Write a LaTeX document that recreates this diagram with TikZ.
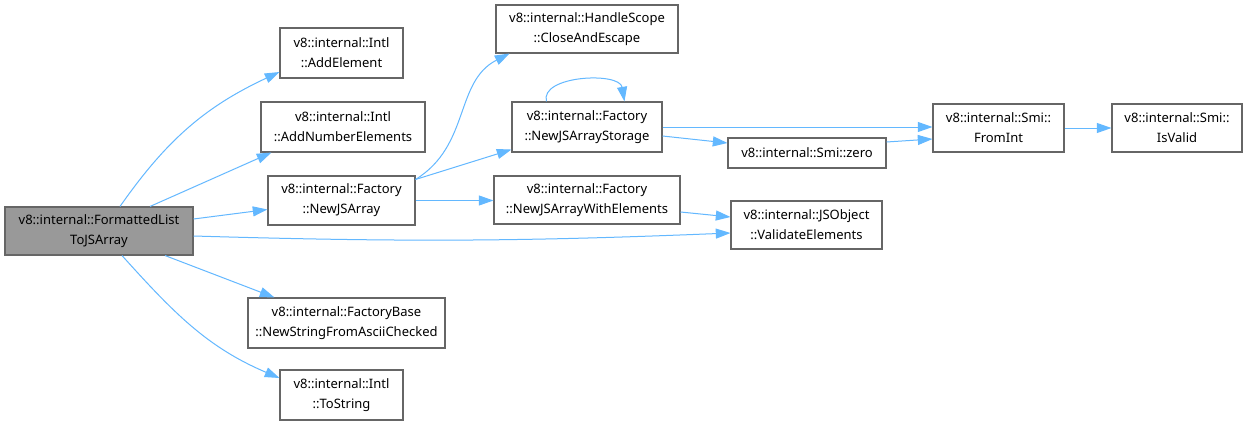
\documentclass[tikz,border=0pt]{standalone}
\usepackage{fontspec}
\setmainfont{Noto Sans}
\usetikzlibrary{arrows.meta,calc}
\definecolor{edgeblue}{HTML}{63B8FF}
\definecolor{boxline}{HTML}{666666}
\definecolor{mainfill}{HTML}{999999}

\begin{document}
\begin{tikzpicture}[x=0.75pt, y=0.75pt, >={Triangle[length=11pt,width=7.5pt]},
  font=\fontsize{9.75}{15}\selectfont,
  blk/.style 2 args={draw=boxline, line width=0.8pt, fill=white, align=center,
    inner sep=0pt, minimum width=#1*0.75pt, minimum height=#2*0.75pt},
  edge/.style={->, draw=edgeblue, line width=0.75pt}]
  \fill[white] (0,0) rectangle (1248,426);
  \useasboundingbox (0,0) rectangle (1248,426);

  % caller
  \node[blk={188}{48}, fill=mainfill] (main) at (99,195) {v8::internal::FormattedList\\ToJSArray};

  % first level
  \node[blk={123}{50}] (addel)  at (341.5,373) {v8::internal::Intl\\::AddElement};
  \node[blk={164}{50}] (addnum) at (343,299) {v8::internal::Intl\\::AddNumberElements};
  \node[blk={147}{49}] (newarr) at (341.5,225.5) {v8::internal::Factory\\::NewJSArray};
  \node[blk={197}{50}] (newstr) at (346.5,103) {v8::internal::FactoryBase\\::NewStringFromAsciiChecked};
  \node[blk={123}{50}] (tostr)  at (341.5,31) {v8::internal::Intl\\::ToString};

  % second level
  \node[blk={182}{48}] (close)  at (587,397) {v8::internal::HandleScope\\::CloseAndEscape};
  \node[blk={150}{50}] (store)  at (587,299) {v8::internal::Factory\\::NewJSArrayStorage};
  \node[blk={186}{48}] (withel) at (587,226) {v8::internal::Factory\\::NewJSArrayWithElements};
  \node[blk={158}{30}] (zero)   at (807,273) {v8::internal::Smi::zero};
  \node[blk={151}{48}] (valid)  at (806.5,201) {v8::internal::JSObject\\::ValidateElements};
  \node[blk={131}{48}] (fromint) at (998.5,298) {v8::internal::Smi::\\FromInt};
  \node[blk={130}{48}] (isvalid) at (1177,298) {v8::internal::Smi::\\IsValid};

  % calls from main
  \draw[edge] ($(main.north)+(21,0)$) to[out=55,in=205] ($(addel.west)+(0,-19)$);
  \draw[edge] ($(main.north)+(51,0)$) -- ($(addnum.south west)+(11,0)$);
  \draw[edge] ($(main.east)+(0,12)$) -- ($(newarr.west)+(0,-9)$);
  \draw[edge] ($(main.east)+(0,-5)$) to[bend right=2] ($(valid.west)+(0,-8)$);
  \draw[edge] ($(main.south)+(66,0)$) -- ($(newstr.north west)+(27,0)$);
  \draw[edge] ($(main.south)+(23,0)$) to[out=-48,in=157] ($(tostr.west)+(0,17)$);

  % calls from NewJSArray
  \draw[edge] ($(newarr.north east)+(0,-4)$) .. controls +(55,34) and +(-55,-28) .. ($(close.south west)+(14,0)$);
  \draw[edge] ($(newarr.north east)+(0,-4)$) -- ($(store.south west)+(0,3)$);
  \draw[edge] (newarr.east) -- (newarr.east -| withel.west);

  % storage, smi
  \draw[edge] ($(store.north west)+(35,0)$) .. controls +(-7,26) and +(-5,30) .. ($(store.north west)+(113,0)$);
  \draw[edge] (store.east) -- ($(fromint.west)+(0,1)$);
  \draw[edge] ($(store.east)+(0,-9)$) -- ($(zero.west)+(0,10)$);
  \draw[edge] ($(zero.east)+(0,11)$) -- ($(fromint.west)+(0,-11)$);
  \draw[edge] ($(withel.east)+(0,-12)$) -- ($(valid.west)+(0,8)$);
  \draw[edge] (fromint) -- (isvalid);
\end{tikzpicture}
\end{document}
